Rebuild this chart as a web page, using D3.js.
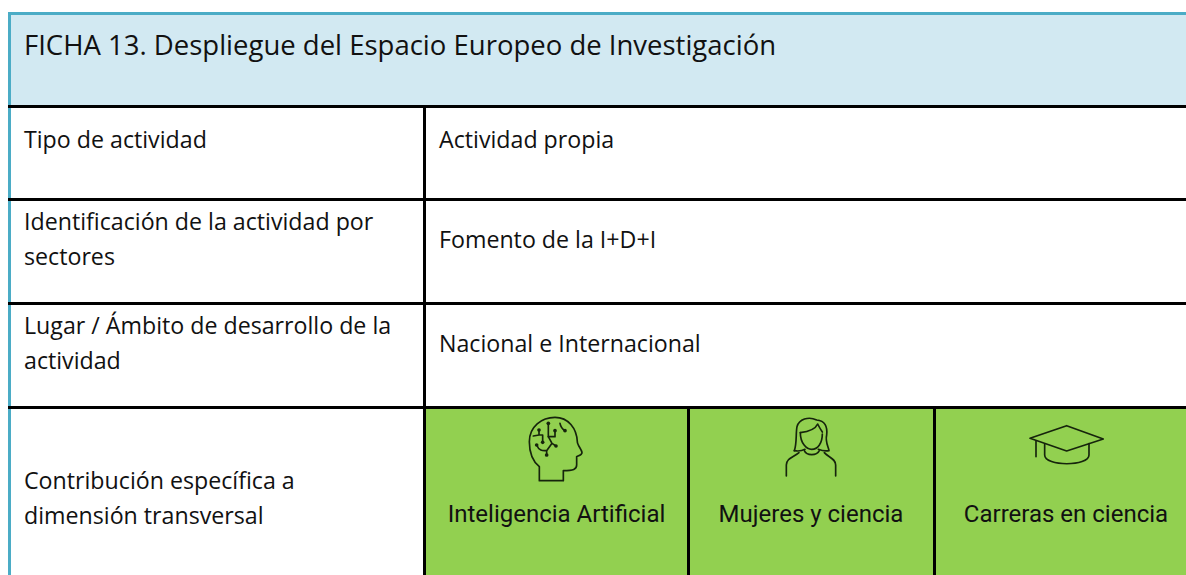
<!DOCTYPE html>
<html>
  <head>
    <meta charset="utf-8">
    <title>Ficha 13</title>
    <script src="https://d3js.org/d3.v7.min.js"></script>
    <style>
      html, body { margin: 0; padding: 0; background: #ffffff; overflow: hidden; }
    </style>
  </head>
  <body>
    <svg width="1186" height="575" style="display:block"></svg>
    <script>
      var title = "FICHA 13. Despliegue del Espacio Europeo de Investigación";
      var rowLabels = [
        ["Tipo de actividad"],
        ["Identificación de la actividad por", "sectores"],
        ["Lugar / Ámbito de desarrollo de la", "actividad"],
        ["Contribución específica a", "dimensión transversal"]
      ];
      var rowValues = ["Actividad propia", "Fomento de la I+D+I", "Nacional e Internacional"];
      var dimensions = ["Inteligencia Artificial", "Mujeres y ciencia", "Carreras en ciencia"];

      var svg = d3.select("svg");
      var bodyFont = "'Open Sans', 'Noto Sans', sans-serif";
      var greenFont = "Roboto, Inter, sans-serif";

      // lineas de la tabla
      var rowEdges = [106.5, 199.5, 303.5, 407.5];
      var colLines = [424.5, 688.5, 934.5];

      // fondos
      svg.append("rect").attr("x", 8).attr("y", 12).attr("width", 1178).attr("height", 94)
        .attr("fill", "#d2e9f2");
      svg.append("rect").attr("x", 424).attr("y", rowEdges[3]).attr("width", 762).attr("height", 575 - rowEdges[3])
        .attr("fill", "#92d050");

      // borde azul
      svg.append("rect").attr("x", 8).attr("y", 12).attr("width", 1178).attr("height", 3).attr("fill", "#4bacc6");
      svg.append("rect").attr("x", 8).attr("y", 12).attr("width", 3).attr("height", 563).attr("fill", "#4bacc6");

      svg.selectAll(".row-line").data(rowEdges).enter().append("line")
        .attr("class", "row-line")
        .attr("x1", 8).attr("x2", 1186)
        .attr("y1", function(d) { return d; }).attr("y2", function(d) { return d; })
        .attr("stroke", "#000000").attr("stroke-width", 3);

      svg.selectAll(".col-line").data(colLines).enter().append("line")
        .attr("class", "col-line")
        .attr("x1", function(d) { return d; }).attr("x2", function(d) { return d; })
        .attr("y1", function(d, i) { return i == 0 ? rowEdges[0] : rowEdges[3]; })
        .attr("y2", 575)
        .attr("stroke", "#000000").attr("stroke-width", 3);

      // textos
      svg.append("text").attr("x", 24).attr("y", 55)
        .style("font-family", bodyFont).style("font-size", "27.5px").attr("fill", "#111111")
        .text(title);

      var labelBaselines = [[147.5], [229.5, 264.5], [333.5, 368.5], [488.5, 523.5]];
      rowLabels.forEach(function(lines, i) {
        lines.forEach(function(t, j) {
          svg.append("text").attr("x", 24).attr("y", labelBaselines[i][j])
            .style("font-family", bodyFont).style("font-size", "23.2px").attr("fill", "#111111")
            .text(t);
        });
      });

      svg.selectAll(".value").data(rowValues).enter().append("text")
        .attr("class", "value")
        .attr("x", 439)
        .attr("y", function(d, i) { return [147.5, 247.5, 351.5][i]; })
        .style("font-family", bodyFont).style("font-size", "23.2px").attr("fill", "#111111")
        .text(function(d) { return d; });

      var dimCenters = [556.5, 811, 1066];
      svg.selectAll(".dim").data(dimensions).enter().append("text")
        .attr("class", "dim")
        .attr("x", function(d, i) { return dimCenters[i]; })
        .attr("y", 522)
        .attr("text-anchor", "middle")
        .style("font-family", greenFont).style("font-size", "24px").attr("fill", "#111111")
        .text(function(d) { return d; });

      // iconos, dibujados a escala 3x y reducidos
      function icon(x, y, paths, dots) {
        var g = svg.append("g")
          .attr("transform", "translate(" + x + "," + y + ") scale(0.3333)")
          .attr("fill", "none").attr("stroke", "#16240c").attr("stroke-width", 5)
          .attr("stroke-linejoin", "round").attr("stroke-linecap", "round");
        paths.forEach(function(p) { g.append("path").attr("d", p); });
        (dots || []).forEach(function(d) {
          g.append("circle").attr("cx", d[0]).attr("cy", d[1]).attr("r", 5.5).attr("fill", "#16240c").attr("stroke", "none");
        });
      }

      icon(520, 410, [
        "M58 212 L58 170 C40 155 28 130 28 95 C28 50 65 22 105 22 C145 22 170 55 172 95 C172 105 186 120 186 128 C186 135 172 138 170 140 L170 165 C170 178 160 182 130 182 L130 212 Z",
        "M57 60 L57 75 L68 75 L68 97 M40 78 L57 75",
        "M85 40 L85 80 L105 80 L105 62",
        "M50 105 C58 125 70 122 80 122 L80 135 M80 122 L96 100 L108 108 M96 100 L85 80",
        "M120 40 C122 50 128 58 135 62"
      ], [[85, 40], [57, 60], [68, 97], [105, 62], [50, 105], [80, 135], [108, 108], [135, 62]]);

      icon(775, 410, [
        "M58 122 C66 100 62 70 66 50 C72 28 100 18 125 30 C150 32 158 50 155 75 C150 95 160 110 162 122 C150 124 140 122 130 118",
        "M58 122 C70 124 82 122 90 118",
        "M76 68 C76 100 95 118 110 118 C128 118 142 100 142 72",
        "M76 68 C100 65 120 60 128 42 C132 50 138 60 142 66",
        "M88 122 C95 138 125 138 133 122",
        "M34 198 L34 165 C34 145 55 142 72 128",
        "M182 198 L182 165 C182 145 160 142 148 128"
      ]);

      icon(1020, 415, [
        "M30 70 L140 32 L250 72 L140 108 Z",
        "M48 78 L48 125",
        "M74 88 L74 120 C74 155 207 155 207 120 L207 86"
      ]);
    </script>
  </body>
</html>
